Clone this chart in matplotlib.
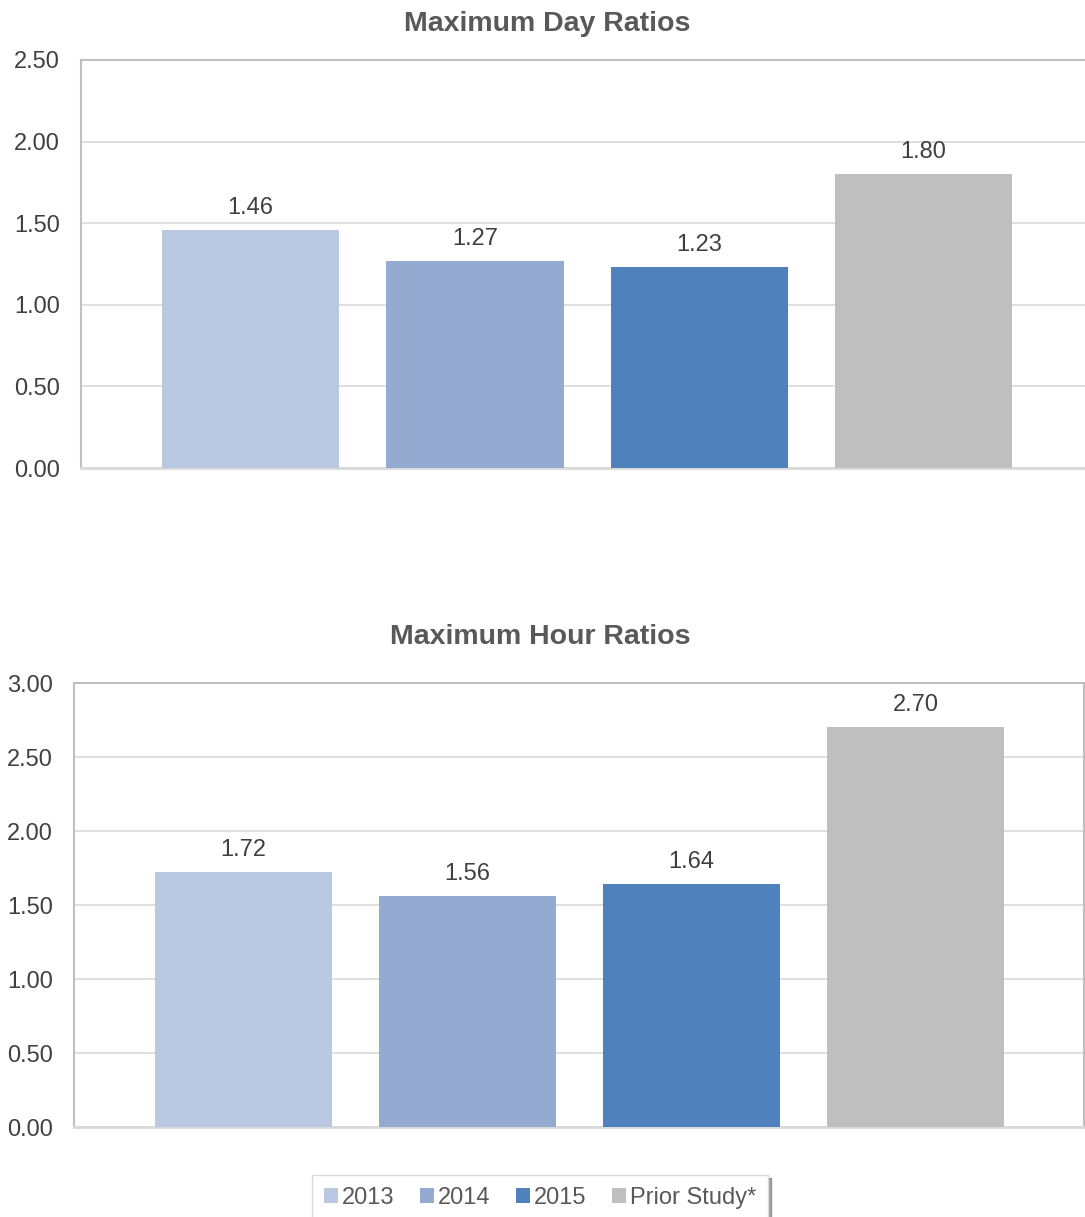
import matplotlib.pyplot as plt
from matplotlib.patches import Patch

plt.rcParams['font.family'] = ['Liberation Sans', 'DejaVu Sans']

categories = ['2013', '2014', '2015', 'Prior Study*']
day_ratios = [1.46, 1.27, 1.23, 1.80]
hour_ratios = [1.72, 1.56, 1.64, 2.70]
colors = ['#bac8e1', '#95aad1', '#4f81bd', '#bfbfbf']

W, H = 1085, 1217
fig = plt.figure(figsize=(W / 100, H / 100), dpi=100)


def px_axes(left, right, top, bottom):
    return fig.add_axes([left / W, 1 - bottom / H, (right - left) / W, (bottom - top) / H])


def draw(ax, values, ymax, xlim):
    x = list(range(len(values)))
    ax.bar(x, values, width=0.79, color=colors, zorder=3)
    for xi, v in zip(x, values):
        ax.annotate(f'{v:.2f}', (xi, v), xytext=(0, 8), textcoords='offset points',
                    ha='center', va='bottom', fontsize=17, color='#404040')
    ax.set_xlim(*xlim)
    ax.set_ylim(0, ymax)
    ticks = [i * 0.5 for i in range(int(ymax / 0.5) + 1)]
    ax.set_yticks(ticks)
    ax.set_yticklabels([f'{t:.2f}' for t in ticks], fontsize=17, color='#404040')
    ax.set_xticks([])
    ax.tick_params(axis='y', length=0, pad=15)
    ax.grid(axis='y', color='#d9d9d9', linewidth=1.2, zorder=0)
    for s in ['left', 'top', 'right']:
        ax.spines[s].set_color('#bfbfbf')
        ax.spines[s].set_linewidth(1.5)
    ax.spines['bottom'].set_color('#d9d9d9')
    ax.spines['bottom'].set_linewidth(2)


ax1 = px_axes(81, 1088, 60, 468)
draw(ax1, day_ratios, 2.5, (-0.756, 3.733))
fig.text(547 / W, 1 - 24 / H, 'Maximum Day Ratios', ha='center', va='center',
         fontsize=20.5, fontweight='bold', color='#595959')

ax2 = px_axes(74, 1084, 683, 1127)
draw(ax2, hour_ratios, 3.0, (-0.757, 3.752))
fig.text(540 / W, 1 - 637 / H, 'Maximum Hour Ratios', ha='center', va='center',
         fontsize=20.5, fontweight='bold', color='#595959')

handles = [Patch(facecolor=c, edgecolor='none') for c in colors]
leg = fig.legend(handles, categories, loc='upper center', ncol=4,
                 bbox_to_anchor=(540 / W, 1 - 1175 / H), borderaxespad=0,
                 fontsize=17, frameon=True, fancybox=False, shadow=True,
                 edgecolor='#d9d9d9', handlelength=0.6, handleheight=0.6,
                 handletextpad=0.15, columnspacing=1.1, borderpad=0.5)
for t in leg.get_texts():
    t.set_color('#595959')

fig.savefig('out.png', dpi=100)
